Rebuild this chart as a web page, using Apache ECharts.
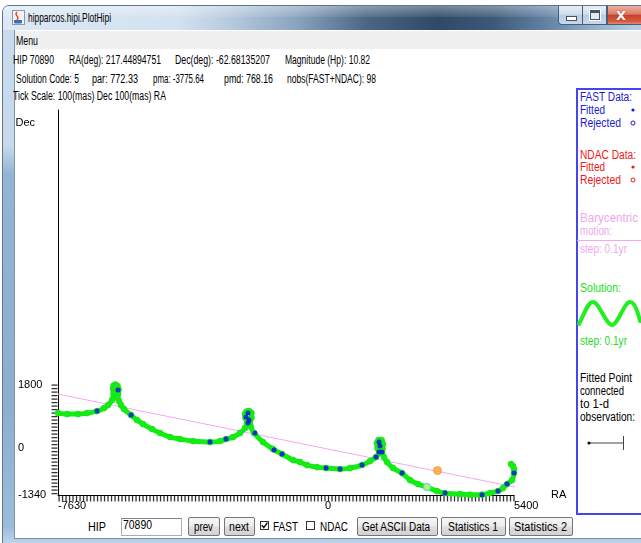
<!DOCTYPE html>
<html>
<head>
<meta charset="utf-8">
<script src="https://cdn.jsdelivr.net/npm/echarts@6/dist/echarts.min.js"></script>
<style>
  html, body { margin:0; padding:0; }
  body { width:641px; height:543px; overflow:hidden; position:relative; background:#fff;
         font-family:'Liberation Sans', Arial, sans-serif; }
  .abs { position:absolute; }
  .t { position:absolute; white-space:nowrap; font-size:12px; line-height:14px; color:#000;
       transform-origin:0 50%; }
  .btn { position:absolute; top:517px; height:19px; box-sizing:border-box; border:1px solid #767676;
         border-radius:2px; background:linear-gradient(#f6f6f6 0%, #ececec 48%, #dedede 52%, #d2d2d2 100%); }
  .wbtn { position:absolute; top:6px; height:19px; box-sizing:border-box; border:1px solid #4a5d76;
          border-top:none; }
  #chart { position:absolute; left:0; top:0; width:641px; height:543px; z-index:5; }
</style>
</head>
<body>
<!-- window frame -->
<div class="abs" style="left:2px;top:5px;width:700px;height:540px;border:1px solid #5f7590;border-radius:7px 7px 0 0;
     background:linear-gradient(180deg,#c9dcef 0px,#c6d9ed 140px,#93b4d4 168px,#8cafd0 400px,#9cbcdb 520px,#c3d8ec 540px);"></div>
<!-- title bar -->
<div class="abs" style="left:3px;top:6px;width:700px;height:24px;border-radius:6px 6px 0 0;
     background:linear-gradient(90deg,#dde8f4 0%,#d3e1f0 25%,#b4c8dd 33%,#8aa3be 42%,#4b6684 52%,#2f4966 62%,#3d5978 70%,#6584a6 78%,#8fadcc 84%,#b5cbe2 90%,#c6d8eb 100%);"></div>
<div class="abs" style="left:3px;top:6px;width:700px;height:11px;border-radius:6px 6px 0 0;background:linear-gradient(180deg,rgba(255,255,255,0.35),rgba(255,255,255,0.08));"></div>
<!-- title icon -->
<svg class="abs" style="left:12px;top:10px" width="13" height="15" viewBox="0 0 13 15">
  <rect x="0.5" y="0.5" width="12" height="14" fill="#f4f4f4" stroke="#8a9aac"/>
  <path d="M5 2 Q3 4 5 6 Q7 8 5 10" stroke="#e0452b" stroke-width="1.3" fill="none"/>
  <path d="M2 10 h8 v2 q0 1.5 -1.5 1.5 h-5 q-1.5 0 -1.5 -1.5z" fill="#3b6fb5"/>
</svg>
<div class="t" data-w="83" style="left:28px;top:11px;">hipparcos.hipi.PlotHipi</div>
<!-- window buttons -->
<div class="wbtn" style="left:558px;width:25px;border-radius:0 0 0 4px;background:linear-gradient(#e6eef7 0%,#d2deec 45%,#b9cce2 50%,#c9d9ea 100%);"></div>
<div class="abs" style="left:566px;top:16px;width:9px;height:3px;background:#fff;border:1px solid #44536a;"></div>
<div class="wbtn" style="left:583px;width:24px;border-left:none;background:linear-gradient(#e6eef7 0%,#d2deec 45%,#b9cce2 50%,#c9d9ea 100%);"></div>
<div class="abs" style="left:590px;top:10px;width:8px;height:6px;border:1px solid #44536a;border-top-width:3px;background:#dfe8f3;outline:1px solid #fff;"></div>
<div class="wbtn" style="left:607px;width:60px;background:linear-gradient(#eab0a0 0%,#dc7c66 45%,#c8402a 52%,#d35a41 85%,#e48a70 100%);"></div>
<div class="abs" style="left:616px;top:6px;font:bold 13px 'DejaVu Sans',sans-serif;color:#fff;line-height:19px;text-shadow:0 0 1px #6a2010;">X</div>

<!-- client area -->
<div class="abs" style="left:14px;top:30px;width:660px;height:508px;background:#fff;border-left:1px solid #7f93aa;border-bottom:1px solid #7f93aa;"></div>
<div class="abs" style="left:15px;top:31px;width:660px;height:18px;background:#f0f0f0;"></div>
<div class="t" data-w="22" style="left:16px;top:34px;">Menu</div>

<!-- info rows -->
<div class="t" data-w="41" style="left:13px;top:53px;">HIP 70890</div>
<div class="t" data-w="92" style="left:69px;top:53px;">RA(deg): 217.44894751</div>
<div class="t" data-w="95" style="left:175px;top:53px;">Dec(deg): -62.68135207</div>
<div class="t" data-w="85" style="left:285px;top:53px;">Magnitude (Hp): 10.82</div>

<div class="t" data-w="63" style="left:16px;top:72px;">Solution Code: 5</div>
<div class="t" data-w="46" style="left:92px;top:72px;">par: 772.33</div>
<div class="t" data-w="51" style="left:153px;top:72px;">pma: -3775.64</div>
<div class="t" data-w="49" style="left:224px;top:72px;">pmd: 768.16</div>
<div class="t" data-w="89" style="left:287px;top:72px;">nobs(FAST+NDAC): 98</div>

<div class="t" data-w="153" style="left:13px;top:89px;">Tick Scale: 100(mas) Dec 100(mas) RA</div>

<!-- key panel -->
<div class="abs" style="left:576px;top:88px;width:100px;height:423px;border:2px solid #4646f0;border-right:none;"></div>
<div class="t" data-w="52" style="left:580px;top:90px;color:#1a1ad0;">FAST Data:</div>
<div class="t" data-w="25" style="left:580px;top:103px;color:#1a1ad0;">Fitted</div>
<div class="t" data-w="41" style="left:580px;top:116px;color:#1a1ad0;">Rejected</div>
<div class="t" data-w="56" style="left:580px;top:148px;color:#f01818;">NDAC Data:</div>
<div class="t" data-w="25" style="left:580px;top:160px;color:#f01818;">Fitted</div>
<div class="t" data-w="41" style="left:580px;top:173px;color:#f01818;">Rejected</div>
<div class="t" data-w="58" style="left:580px;top:211px;color:#f0a8f0;">Barycentric</div>
<div class="t" data-w="32" style="left:580px;top:224px;color:#f0a8f0;">motion:</div>
<div class="abs" style="left:577px;top:240px;width:70px;height:1px;background:#f0a8f0;"></div>
<div class="t" data-w="47" style="left:580px;top:242px;color:#f0a8f0;">step: 0.1yr</div>
<div class="t" data-w="41" style="left:580px;top:281px;color:#22dd22;">Solution:</div>
<div class="t" data-w="47" style="left:580px;top:334px;color:#22dd22;">step: 0.1yr</div>
<div class="t" data-w="52" style="left:580px;top:371px;">Fitted Point</div>
<div class="t" data-w="44" style="left:580px;top:384px;">connected</div>
<div class="t" data-w="29" style="left:580px;top:397px;">to 1-d</div>
<div class="t" data-w="55" style="left:580px;top:410px;">observation:</div>
<svg class="abs" style="left:0;top:0;z-index:3" width="641" height="543">
  <circle cx="633" cy="110" r="1.6" fill="#1a1ad0"/>
  <circle cx="633" cy="123" r="2" fill="none" stroke="#1a1ad0" stroke-width="1"/>
  <circle cx="633" cy="167" r="1.6" fill="#f01818"/>
  <circle cx="633" cy="180" r="2" fill="none" stroke="#f01818" stroke-width="1"/>
  <path d="M579,324 C585,312 588,302 593,302 C599,302 606,325 612,325 C618,325 624,302 630,302 C635,302 638,313 640,321"
        stroke="#22ee22" stroke-width="4" fill="none" stroke-linecap="round"/>
  <line x1="589" y1="443" x2="623" y2="443" stroke="#444" stroke-width="1"/>
  <line x1="623.5" y1="436" x2="623.5" y2="450" stroke="#444" stroke-width="1"/>
  <circle cx="589" cy="443" r="1.6" fill="#111"/>
</svg>

<!-- control strip -->
<div class="t" data-w="18" style="left:88px;top:520px;">HIP</div>
<div class="abs" style="left:121px;top:518px;width:61px;height:18px;box-sizing:border-box;border:1px solid #a9acb3;border-top-color:#7e838c;background:#fff;"></div>
<div class="t" data-w="29" style="left:123px;top:518px;">70890</div>
<div class="btn" style="left:188px;width:32px;"></div>
<div class="t" data-w="19" style="left:194px;top:520px;">prev</div>
<div class="btn" style="left:224px;width:31px;"></div>
<div class="t" data-w="20" style="left:229px;top:520px;">next</div>
<div class="abs" style="left:260px;top:521px;width:9px;height:9px;box-sizing:border-box;border:1px solid #333;background:#fff;"></div>
<svg class="abs" style="left:260px;top:521px;z-index:3" width="9" height="9"><path d="M1.8 4.2 L3.8 6.6 L7.4 1.6" stroke="#111" stroke-width="1.5" fill="none"/></svg>
<div class="t" data-w="25" style="left:273px;top:520px;">FAST</div>
<div class="abs" style="left:306px;top:521px;width:9px;height:9px;box-sizing:border-box;border:1px solid #333;background:#fff;"></div>
<div class="t" data-w="28" style="left:320px;top:520px;">NDAC</div>
<div class="btn" style="left:357px;width:81px;"></div>
<div class="t" data-w="68" style="left:362px;top:520px;">Get ASCII Data</div>
<div class="btn" style="left:441px;width:65px;"></div>
<div class="t" data-w="50" style="left:448px;top:520px;">Statistics 1</div>
<div class="btn" style="left:509px;width:64px;"></div>
<div class="t" data-w="53" style="left:514px;top:520px;">Statistics 2</div>

<div id="chart"></div>

<script>
// fit each text run to its measured width
document.querySelectorAll('.t[data-w]').forEach(function (el) {
  el.style.zIndex = 4;
  var w = el.getBoundingClientRect().width;
  el.style.transform = 'scaleX(' + (parseFloat(el.dataset.w) / w).toFixed(3) + ')';
});

// ---- astrometric solution path (mas) ----
var solutionRA = [-7630,-7371,-7057,-6800,-6514,-6314,-6200,-6086,-6043,-6057,-6043,-5986,-5929,-5900,-5914,-5929,-5886,-5829,-5743,-5543,
  -5371,-5200,-4943,-4714,-4429,-4143,-3771,-3286,-3000,-2829,-2629,-2429,-2286,-2229,-2271,-2286,-2243,-2171,-2100,-2100,
  -2143,-2129,-2029,-1771,-1486,-1229,-914,-714,-514,-229,29,429,714,1057,1286,1457,1543,1500,1486,1529,
  1614,1657,1643,1629,1686,1771,1943,2200,2429,2657,2914,3200,3429,3857,4143,4486,4714,4943,5086,5200,
  5343,5400,5400,5371,5314];
var solutionDec = [1000,971,971,1000,1057,1143,1229,1371,1543,1686,1786,1814,1771,1671,1557,1443,1343,1229,1114,943,
  800,686,543,429,314,257,200,171,200,257,314,429,571,714,857,971,1043,1057,1000,871,
  743,629,429,171,-29,-171,-343,-400,-486,-543,-571,-600,-571,-486,-371,-257,-143,0,143,229,
  229,114,-29,-143,-257,-400,-571,-714,-914,-1029,-1114,-1229,-1286,-1314,-1330,-1330,-1286,-1229,-1143,-1029,
  -914,-714,-600,-514,-457];

// ---- FAST fitted observations (mas) ----
var fastRA  = [-6514,-5914,-5543,-3286,-2829,-2200,-2257,-2171,-2200,-2000,-1457,-1229,29,429,1057,1457,1543,1571,1543,1629,2200,3429,4486,4943,5200,5400];
var fastDec = [1057,1657,943,171,257,1000,886,800,714,429,-57,-171,-571,-600,-486,-257,171,57,-114,-114,-714,-1286,-1330,-1229,-1029,-714];

// ---- barycentric motion end points (mas) ----
var baryRA  = [-7630, 5430];
var baryDec = [1543, -1114];

// ---- single highlighted positions (mas) ----
var refPoint    = [3214, -643];
var markedPoint = [2914, -1114];

// ---- axis ranges, tick step and labelled values ----
var xRange = [-7630, 5400];
var yRange = [-1340, 9660];
var xLabelValues = [-7630, 0, 5400];
var yLabelValues = [-1340, 0, 1800];
var tickStep = 100;
var xTickRange = [-7600, 5400];   // 100 mas comb along RA
var yTickRange = [-1300, 1800];   // 100 mas comb along Dec

function zip(a, b) { return a.map(function (x, i) { return [x, b[i]]; }); }
function steps(r) { var out = []; for (var v = r[0]; v <= r[1]; v += tickStep) out.push(v); return out; }

// tick comb anchors sitting on the two axis lines
var xComb = steps(xTickRange).map(function (v) { return [v, yRange[0]]; });
var yComb = steps(yTickRange).map(function (v) { return [xRange[0], v]; });

var FONT = 'Liberation Sans';
var labelStyle = { color: '#000', fontSize: 11, fontFamily: FONT, formatter: function (v) { return String(v); } };

var chart = echarts.init(document.getElementById('chart'), null, { renderer: 'canvas' });
chart.setOption({
  animation: false,
  backgroundColor: 'transparent',
  grid: { left: 58, top: 110, right: 641 - 514, bottom: 543 - 495 },
  xAxis: {
    type: 'value', min: xRange[0], max: xRange[1],
    name: 'RA', nameLocation: 'end', nameGap: 37,
    nameTextStyle: { color: '#000', fontSize: 11, fontFamily: FONT, padding: [14, 0, 0, 0] },
    axisLine: { onZero: false, lineStyle: { color: '#000', width: 1 } },
    axisTick: { show: false },
    axisLabel: Object.assign({ customValues: xLabelValues, align: 'left', margin: 5 }, labelStyle),
    splitLine: { show: false }
  },
  yAxis: {
    type: 'value', min: yRange[0], max: yRange[1],
    name: 'Dec', nameLocation: 'end', nameGap: -18,
    nameTextStyle: { color: '#000', fontSize: 11, fontFamily: FONT, align: 'right', padding: [0, 23, 0, 0] },
    axisLine: { onZero: false, lineStyle: { color: '#000', width: 1 } },
    axisTick: { show: false },
    axisLabel: Object.assign({ customValues: yLabelValues, align: 'left', margin: 40 }, labelStyle),
    splitLine: { show: false }
  },
  series: [
    {
      name: 'RA ticks', type: 'scatter', data: xComb, clip: false, silent: true,
      symbol: 'rect', symbolSize: [1.3, 6], symbolOffset: [0, 3.5], itemStyle: { color: '#000' }, z: 0
    },
    {
      name: 'Dec ticks', type: 'scatter', data: yComb, clip: false, silent: true,
      symbol: 'rect', symbolSize: [6, 1.3], symbolOffset: [-3.5, 0], itemStyle: { color: '#000' }, z: 0
    },
    {
      name: 'Barycentric motion', type: 'line', data: zip(baryRA, baryDec), clip: false,
      symbol: 'none', lineStyle: { color: '#f6a6f6', width: 1 }, z: 1
    },
    {
      name: 'Solution', type: 'line', data: zip(solutionRA, solutionDec), clip: false, smooth: 0.25,
      symbol: 'circle', symbolSize: 6, showSymbol: true,
      itemStyle: { color: '#11ee11', borderColor: '#22d822', borderWidth: 0.6 },
      lineStyle: { color: '#11ee11', width: 5 }, z: 2
    },
    {
      name: 'FAST fitted', type: 'scatter', data: zip(fastRA, fastDec), clip: false,
      symbol: 'circle', symbolSize: 5, itemStyle: { color: '#0a0af0' }, z: 3
    },
    {
      name: 'Reference', type: 'scatter', data: [refPoint], clip: false,
      symbolSize: 8, itemStyle: { color: '#ffa126', borderColor: '#f08a10', borderWidth: 0.8 }, z: 4
    },
    {
      name: 'Marked', type: 'scatter', data: [markedPoint], clip: false,
      symbolSize: 7, itemStyle: { color: '#f8f860', borderColor: '#44d8f8', borderWidth: 1.5 }, z: 4
    }
  ]
});
</script>
</body>
</html>
